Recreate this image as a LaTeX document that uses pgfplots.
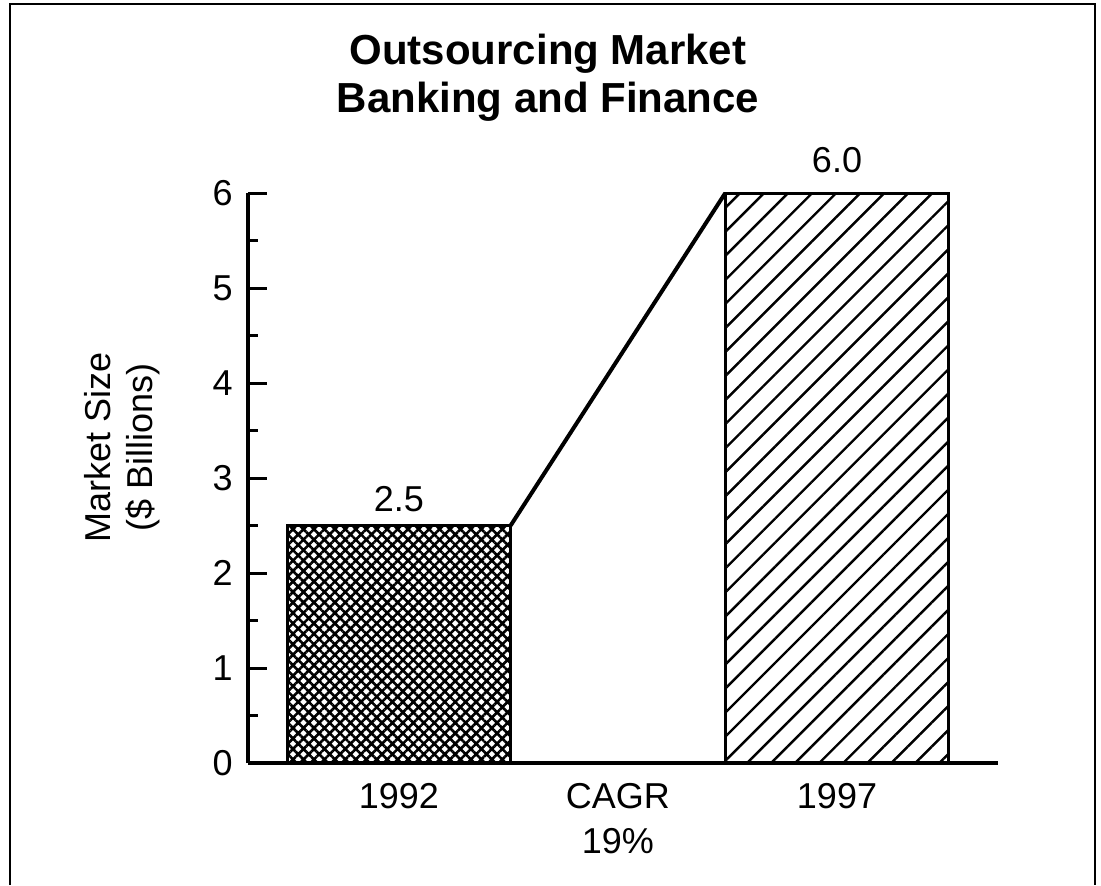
\documentclass[border=0pt]{standalone}
\usepackage{fontspec}
\setmainfont{Liberation Sans}
\usepackage{pgfplots}
\pgfplotsset{compat=1.18}
\usetikzlibrary{patterns.meta}
\begin{document}
\begin{tikzpicture}
\path[use as bounding box] (0,0) rectangle (550.5pt,-442.5pt);
\draw[line width=1.1pt] (5pt,-442.5pt) -- (5pt,-2pt) -- (547.5pt,-2pt) -- (547.5pt,-442.5pt);
\node[anchor=north, align=center, inner sep=0pt, font=\fontsize{21}{24}\selectfont\bfseries] at (274pt,-17pt) {Outsourcing Market\\Banking and Finance};
\begin{axis}[
  at={(124pt,-381.5pt)}, anchor=south west,
  scale only axis, width=375pt, height=285pt,
  axis lines=left, axis line style={-, line width=2pt},
  xmin=-0.689, xmax=2.735, ymin=0, ymax=6,
  xtick={0,1,2}, xticklabels={1992, CAGR\\19\%, 1997},
  xtick style={draw=none},
  ytick={0,1,2,3,4,5,6}, minor ytick={0.5,1.5,2.5,3.5,4.5,5.5},
  tick align=inside, major tick length=9.5pt, minor tick length=5pt,
  ytick style={line width=1.5pt, black},
  minor tick style={line width=1.5pt, black},
  tick label style={font=\fontsize{18}{22.5}\selectfont},
  /pgf/number format/assume math mode=true,
  xticklabel style={align=center, anchor=north, inner sep=0pt, yshift=-10pt},
  yticklabel style={anchor=east, inner sep=0pt, xshift=-7.5pt},
  ylabel={Market Size\\(\$ Billions)},
  ylabel style={at={(axis description cs:-0.168,0.553)}, anchor=center, align=center, font=\fontsize{18}{21}\selectfont},
  clip=false,
]
\addplot[ybar, bar width=1.02, bar shift=0pt, draw=black, line width=1.5pt,
  pattern={Hatch[angle=45,distance=3.7pt,line width=1.3pt]},
  point meta=explicit symbolic, nodes near coords,
  nodes near coords style={anchor=base, inner sep=0pt, yshift=7pt, font=\fontsize{18}{20}\selectfont, text=black}]
  coordinates {(0,2.5) [2.5]};
\addplot[ybar, bar width=1.02, bar shift=0pt, draw=black, line width=1.5pt,
  pattern={Lines[angle=45,distance=8.5pt,line width=1.2pt]},
  point meta=explicit symbolic, nodes near coords,
  nodes near coords style={anchor=base, inner sep=0pt, yshift=10.5pt, font=\fontsize{18}{20}\selectfont, text=black}]
  coordinates {(2,6.0) [6.0]};
\addplot[sharp plot, no marks, black, line width=2pt] coordinates {(0.51,2.5) (1.49,6)};
\end{axis}
\end{tikzpicture}
\end{document}
